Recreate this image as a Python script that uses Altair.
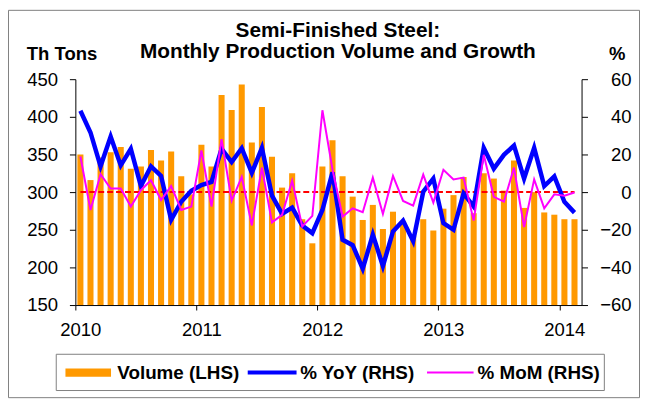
import altair as alt
import pandas as pd

# Monthly data, Jan 2010 .. Feb 2014
volume = [350, 316, 346, 353, 360, 331, 334, 356, 342, 354, 321, 297,
          363, 334, 429, 409, 443, 366, 413, 347, 306, 325, 264, 232,
          334, 369, 321, 294, 263, 283, 251, 274, 261, 242, 264, 249,
          278, 296, 320, 272, 325, 318, 302, 342, 279, 300, 273, 270,
          264, 264]
yoy = [43.2, 31.7, 13.7, 29.5, 14.2, 23.0, 3.2, 13.7, 8.6, -14.7, -5.1, 0.7,
       3.7, 5.4, 23.0, 16.0, 23.3, 10.2, 23.5, -1.9, -11.6, -8.2, -17.7, -21.8,
       -9.5, 10.5, -25.3, -28.2, -40.7, -22.6, -39.3, -20.9, -15.1, -26.1, 0.2, 7.2,
       -16.5, -20.0, -0.7, -7.7, 23.5, 12.5, 19.8, 24.7, 7.2, 23.5, 3.2, 8.4,
       -5.1, -10.9]
mom = [18.9, -9.5, 9.5, 1.9, 1.9, -7.7, 1.0, 6.3, -4.2, 3.2, -9.5, -7.7,
       22.1, -7.7, 28.2, -4.6, 8.1, -17.7, 13.0, -16.1, -12.1, 6.0, -18.2, -12.6,
       43.5, 12.0, -13.0, -8.6, -10.7, 7.7, -11.6, 8.6, -4.7, -7.2, 9.3, -5.6,
       11.9, 6.7, 7.7, -15.1, 19.8, -2.5, -5.1, 13.0, -18.6, 6.8, -8.6, -1.2,
       -1.9, -0.2]
year_ticks = [0, 12, 24, 36, 48]
left_ticks = [150, 200, 250, 300, 350, 400, 450]
right_ticks = [-60, -40, -20, 0, 20, 40, 60]

n = len(volume)
df = pd.DataFrame({"i": list(range(n)), "volume": volume, "yoy": yoy, "mom": mom})
df["mid"] = df["i"] + 0.5
df["x0"] = df["i"] + 0.2
df["x1"] = df["i"] + 0.8
df["zero"] = 0.0
df["base"] = 150

FONT = "Liberation Sans"
FS = 18.67

xscale = alt.Scale(domain=[0, 50.2], nice=False, zero=False)
xaxis = alt.Axis(values=year_ticks, labelExpr="'' + (2010 + datum.value / 12)",
                 title=None, grid=False, tickSize=5, labelOffset=5, labelPadding=11,
                 labelFontSize=FS, labelFont=FONT, labelColor="black",
                 domainColor="black", tickColor="black", labelFlush=False,
                 labelOverlap=False)
lscale = alt.Scale(domain=[150, 450], nice=False, zero=False)
laxis = alt.Axis(values=left_ticks, orient="left", title=None, grid=False,
                 tickSize=6, labelPadding=12, labelFontSize=FS, labelFont=FONT,
                 labelColor="black", domainColor="black", tickColor="black")
rscale = alt.Scale(domain=[-60, 60], nice=False, zero=False)
raxis = alt.Axis(values=right_ticks, orient="right", title=None, grid=False,
                 tickSize=6, labelPadding=44, labelAlign="right", labelFontSize=FS,
                 labelFont=FONT, labelColor="black", domainColor="black",
                 tickColor="black")

base = alt.Chart(df)
bars = base.mark_bar(color="#FF9900").encode(
    x=alt.X("x0:Q", scale=xscale, axis=xaxis),
    x2="x1:Q",
    y=alt.Y("volume:Q", scale=lscale, axis=laxis),
    y2="base:Q",
)
zero_line = base.mark_line(color="#FF0000", strokeDash=[6, 3], strokeWidth=2).encode(
    x=alt.X("mid:Q", scale=xscale, axis=xaxis),
    y=alt.Y("zero:Q", scale=rscale, axis=raxis),
)
yoy_line = base.mark_line(color="#0000FF", strokeWidth=4.5).encode(
    x=alt.X("mid:Q", scale=xscale, axis=xaxis),
    y=alt.Y("yoy:Q", scale=rscale, axis=raxis),
)
mom_line = base.mark_line(color="#FF00FF", strokeWidth=2).encode(
    x=alt.X("mid:Q", scale=xscale, axis=xaxis),
    y=alt.Y("mom:Q", scale=rscale, axis=raxis),
)
lines = alt.layer(zero_line, yoy_line, mom_line)

dummy = alt.Chart(pd.DataFrame({"a": [0]}))


def label(txt, x, y, align="left", size=FS):
    return dummy.mark_text(font=FONT, fontSize=size, fontWeight="bold", color="black",
                           align=align, baseline="alphabetic").encode(
        x=alt.value(x), y=alt.value(y), text=alt.value(txt))


title1 = label("Semi-Finished Steel:", 265, -43, align="center", size=21)
title2 = label("Monthly Production Volume and Growth", 265, -21, align="center", size=21)
left_title = label("Th Tons", -49, -19)
right_title = label("%", 547, -19, align="center")

frame = dummy.mark_rect(fill=None, stroke="#7f7f7f", strokeWidth=1).encode(
    x=alt.value(-67.5), x2=alt.value(569.5), y=alt.value(-69.5), y2=alt.value(321.5))
legend_box = dummy.mark_rect(fill="white", stroke="#7f7f7f", strokeWidth=1).encode(
    x=alt.value(-19.3), x2=alt.value(534), y=alt.value(277.7), y2=alt.value(314.3))
leg_vol = dummy.mark_rect(color="#FF9900").encode(
    x=alt.value(-10), x2=alt.value(36), y=alt.value(292), y2=alt.value(300.3))
leg_yoy = dummy.mark_rule(color="#0000FF", strokeWidth=4).encode(
    x=alt.value(174), x2=alt.value(223.3), y=alt.value(296))
leg_mom = dummy.mark_rule(color="#FF00FF", strokeWidth=2).encode(
    x=alt.value(355), x2=alt.value(402), y=alt.value(296))
LFS = 19
leg_t1 = label("Volume (LHS)", 42.3, 302.7, size=LFS)
leg_t2 = label("% YoY (RHS)", 227, 302.7, size=LFS)
leg_t3 = label("% MoM (RHS)", 406, 302.7, size=LFS)

chart = alt.layer(
    bars, lines, frame, legend_box, leg_vol, leg_yoy, leg_mom, leg_t1, leg_t2, leg_t3,
    title1, title2, left_title, right_title,
).resolve_scale(y="independent").properties(
    width=511, height=228,
    padding={"left": 68, "top": 70, "right": 59, "bottom": 94},
    autosize=alt.AutoSizeParams(type="none"),
    background="white",
).configure_view(stroke=None)

chart.save("out.html", embed_options={"renderer": "svg", "actions": False})
